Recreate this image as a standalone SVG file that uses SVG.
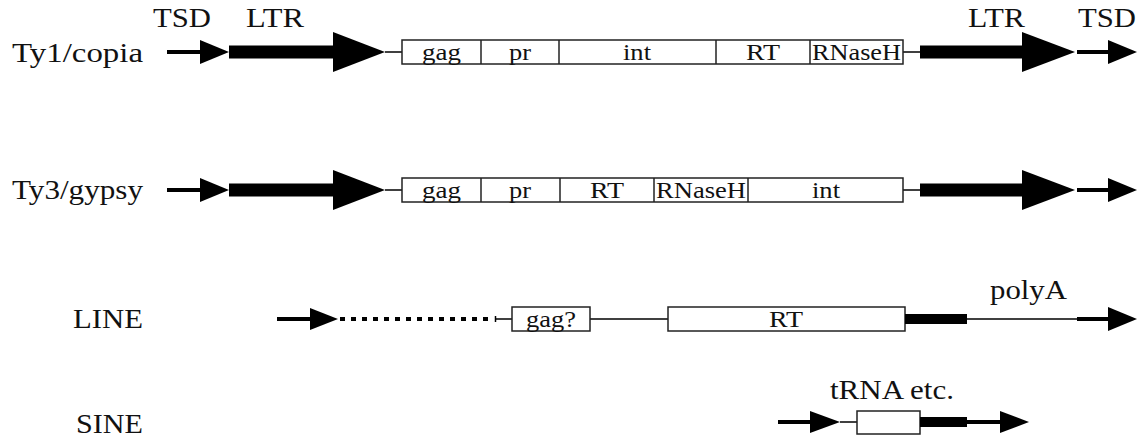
<svg xmlns="http://www.w3.org/2000/svg" width="1138" height="439" viewBox="0 0 1138 439">
  <style>
    .lbl { font-family: "Liberation Serif", "Times New Roman", serif; font-size: 27px; fill: #111; }
    .seg { font-family: "Liberation Serif", "Times New Roman", serif; font-size: 23px; fill: #111; }
    .box { fill: #fff; stroke: #222; stroke-width: 1.5; }
    .div { stroke: #222; stroke-width: 1.5; }
    .solid { fill: #000; }
    .link { stroke: #000; stroke-width: 1.5; fill: none; }
    .shaft { stroke: #000; stroke-width: 4; fill: none; }
    .dots { stroke: #000; stroke-width: 4; fill: none; stroke-dasharray: 5 6; }
  </style>
  <rect width="1138" height="439" fill="#fff"/>

  <!-- row labels -->
  <g id="labels">
    <text class="lbl" x="12" y="62" textLength="131" lengthAdjust="spacingAndGlyphs">Ty1/copia</text>
    <text class="lbl" x="12" y="199" textLength="131" lengthAdjust="spacingAndGlyphs">Ty3/gypsy</text>
    <text class="lbl" x="73" y="328" textLength="70" lengthAdjust="spacingAndGlyphs">LINE</text>
    <text class="lbl" x="76" y="433" textLength="67" lengthAdjust="spacingAndGlyphs">SINE</text>
    <text class="lbl" x="153" y="27" textLength="58" lengthAdjust="spacingAndGlyphs">TSD</text>
    <text class="lbl" x="246" y="27" textLength="58" lengthAdjust="spacingAndGlyphs">LTR</text>
    <text class="lbl" x="968" y="27" textLength="57" lengthAdjust="spacingAndGlyphs">LTR</text>
    <text class="lbl" x="1078" y="27" textLength="58" lengthAdjust="spacingAndGlyphs">TSD</text>
    <text class="lbl" x="990" y="299" textLength="77" lengthAdjust="spacingAndGlyphs">polyA</text>
    <text class="lbl" x="830" y="399" textLength="124" lengthAdjust="spacingAndGlyphs">tRNA etc.</text>
  </g>

  <!-- thin linkers and the dotted 5' truncation -->
  <g id="connectors">
    <line class="link" x1="385" y1="52" x2="402" y2="52"/>
    <line class="link" x1="903" y1="52" x2="920" y2="52"/>
    <line class="link" x1="385" y1="190" x2="402" y2="190"/>
    <line class="link" x1="903" y1="190" x2="920" y2="190"/>
    <line class="dots" x1="340" y1="319" x2="492" y2="319"/>
    <line class="link" x1="495" y1="319" x2="512" y2="319"/>
    <line class="link" x1="495.5" y1="316" x2="495.5" y2="322"/>
    <line class="link" x1="590" y1="319" x2="668" y2="319"/>
    <line class="link" x1="967" y1="319" x2="1077" y2="319"/>
    <line class="link" x1="840" y1="422" x2="857" y2="422"/>
  </g>

  <!-- Ty1/copia -->
  <g id="ty1-tsd-left">
    <line class="shaft" x1="167" y1="52" x2="202" y2="52"/>
    <polygon class="solid" points="200,40 229,52 200,64"/>
  </g>
  <g id="ty1-ltr-left">
    <rect class="solid" x="229" y="45.5" width="106" height="13"/>
    <polygon class="solid" points="333,32 385,52 333,72"/>
  </g>
  <g id="ty1-orf">
    <rect class="box" x="402" y="40" width="501" height="24"/>
    <line class="div" x1="481" y1="40" x2="481" y2="64"/>
    <line class="div" x1="559" y1="40" x2="559" y2="64"/>
    <line class="div" x1="716" y1="40" x2="716" y2="64"/>
    <line class="div" x1="810" y1="40" x2="810" y2="64"/>
    <text class="seg" x="422" y="60" textLength="39" lengthAdjust="spacingAndGlyphs">gag</text>
    <text class="seg" x="509" y="60" textLength="22" lengthAdjust="spacingAndGlyphs">pr</text>
    <text class="seg" x="623" y="60" textLength="28" lengthAdjust="spacingAndGlyphs">int</text>
    <text class="seg" x="746" y="60" textLength="34" lengthAdjust="spacingAndGlyphs">RT</text>
    <text class="seg" x="812" y="60" textLength="89" lengthAdjust="spacingAndGlyphs">RNaseH</text>
  </g>
  <g id="ty1-ltr-right">
    <rect class="solid" x="920" y="45.5" width="104" height="13"/>
    <polygon class="solid" points="1022,32 1075,52 1022,72"/>
  </g>
  <g id="ty1-tsd-right">
    <line class="shaft" x1="1077" y1="52" x2="1110" y2="52"/>
    <polygon class="solid" points="1108,40 1137,52 1108,64"/>
  </g>

  <!-- Ty3/gypsy -->
  <g id="ty3-tsd-left">
    <line class="shaft" x1="167" y1="190" x2="202" y2="190"/>
    <polygon class="solid" points="200,178 229,190 200,202"/>
  </g>
  <g id="ty3-ltr-left">
    <rect class="solid" x="229" y="183.5" width="106" height="13"/>
    <polygon class="solid" points="333,170 385,190 333,210"/>
  </g>
  <g id="ty3-orf">
    <rect class="box" x="402" y="178" width="501" height="24"/>
    <line class="div" x1="481" y1="178" x2="481" y2="202"/>
    <line class="div" x1="560" y1="178" x2="560" y2="202"/>
    <line class="div" x1="654" y1="178" x2="654" y2="202"/>
    <line class="div" x1="748" y1="178" x2="748" y2="202"/>
    <text class="seg" x="422" y="198" textLength="39" lengthAdjust="spacingAndGlyphs">gag</text>
    <text class="seg" x="509" y="198" textLength="22" lengthAdjust="spacingAndGlyphs">pr</text>
    <text class="seg" x="590" y="198" textLength="34" lengthAdjust="spacingAndGlyphs">RT</text>
    <text class="seg" x="656" y="198" textLength="90" lengthAdjust="spacingAndGlyphs">RNaseH</text>
    <text class="seg" x="812" y="198" textLength="28" lengthAdjust="spacingAndGlyphs">int</text>
  </g>
  <g id="ty3-ltr-right">
    <rect class="solid" x="920" y="183.5" width="104" height="13"/>
    <polygon class="solid" points="1022,170 1075,190 1022,210"/>
  </g>
  <g id="ty3-tsd-right">
    <line class="shaft" x1="1077" y1="190" x2="1110" y2="190"/>
    <polygon class="solid" points="1108,178 1137,190 1108,202"/>
  </g>

  <!-- LINE -->
  <g id="line-tsd-left">
    <line class="shaft" x1="277" y1="319" x2="312" y2="319"/>
    <polygon class="solid" points="310,308 338,319 310,330"/>
  </g>
  <g id="line-gag">
    <rect class="box" x="512" y="307" width="78" height="24"/>
    <text class="seg" x="526" y="327" textLength="50" lengthAdjust="spacingAndGlyphs">gag?</text>
  </g>
  <g id="line-rt">
    <rect class="box" x="668" y="307" width="237" height="24"/>
    <text class="seg" x="769" y="327" textLength="34" lengthAdjust="spacingAndGlyphs">RT</text>
  </g>
  <g id="line-utr">
    <rect class="solid" x="905" y="314" width="62" height="10"/>
  </g>
  <g id="line-tsd-right">
    <line class="shaft" x1="1077" y1="319" x2="1110" y2="319"/>
    <polygon class="solid" points="1108,307 1137,319 1108,331"/>
  </g>

  <!-- SINE -->
  <g id="sine-tsd-left">
    <line class="shaft" x1="778" y1="422" x2="812" y2="422"/>
    <polygon class="solid" points="810,411 840,422 810,433"/>
  </g>
  <g id="sine-body">
    <rect class="box" x="857" y="411" width="63" height="23"/>
  </g>
  <g id="sine-tail">
    <rect class="solid" x="920" y="417" width="47" height="10"/>
  </g>
  <g id="sine-tsd-right">
    <line class="shaft" x1="967" y1="422" x2="1002" y2="422"/>
    <polygon class="solid" points="1000,411 1029,422 1000,433"/>
  </g>
</svg>
